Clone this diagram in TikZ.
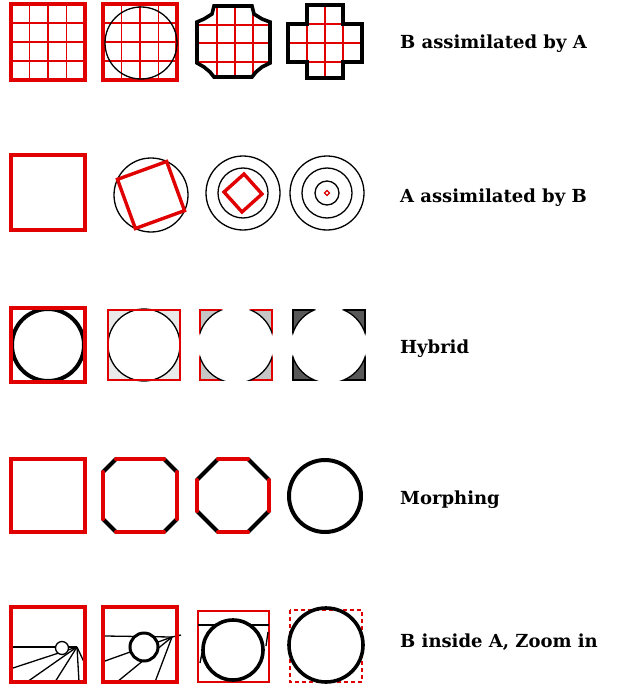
\documentclass[tikz,border=0pt]{standalone}
\usepackage{fontspec}
\setmainfont{DejaVu Serif}
\usepackage{tikz}
\definecolor{shapered}{RGB}{225,0,0}
\definecolor{lightfill}{RGB}{234,234,234}
\definecolor{midfill}{RGB}{198,198,198}
\definecolor{darkfill}{RGB}{88,88,88}

\begin{document}
\begin{tikzpicture}[
    x=1pt, y=-1pt,
    redframe/.style={draw=shapered, line width=4pt},
    thinframe/.style={draw=shapered, line width=1.6pt},
    gridline/.style={draw=shapered, line width=1.8pt},
    blackedge/.style={draw=black, line width=3.6pt},
    thinline/.style={draw=black, line width=1.3pt},
    rededge/.style={draw=shapered, line width=4pt, line cap=round},
    chamfer/.style={draw=black, line width=4pt, line cap=round},
    rowlabel/.style={anchor=west, inner sep=0pt,
                     font=\fontsize{18}{22}\selectfont\bfseries}
  ]
  \useasboundingbox (0,0) rectangle (619,687);

  %% Row 1: B assimilated by A
  \foreach \i in {1,2,3}{
    \draw[gridline] ({11+18.5*\i},4) -- ({11+18.5*\i},80);
    \draw[gridline] (11,{4+19*\i}) -- (85,{4+19*\i});
    \draw[gridline] ({103+18.5*\i},4) -- ({103+18.5*\i},80);
    \draw[gridline] (103,{4+19*\i}) -- (177,{4+19*\i});
  }
  \draw[redframe] (11,4) rectangle (85,80);
  \draw[redframe] (103,4) rectangle (177,80);
  \draw[thinline] (141,43) circle [radius=36];

  \begin{scope}
    \clip (214,6) -- (252,6) -- (254,14) -- (262,19) -- (270,22) -- (270,63)
      -- (262,67) -- (256,72) -- (252,77) -- (214,77) -- (210,72) -- (204,67)
      -- (197,63) -- (197,22) -- (204,19) -- (212,14) -- cycle;
    \foreach \v in {217,235,253}{
      \draw[gridline] (\v,0) -- (\v,85);
    }
    \foreach \h in {25,43,62}{
      \draw[gridline] (190,\h) -- (275,\h);
    }
  \end{scope}
  \draw[blackedge] (214,6) -- (252,6) -- (254,14) -- (262,19) -- (270,22)
    -- (270,63) -- (262,67) -- (256,72) -- (252,77) -- (214,77) -- (210,72)
    -- (204,67) -- (197,63) -- (197,22) -- (204,19) -- (212,14) -- cycle;

  \begin{scope}
    \clip (307,5) -- (343,5) -- (343,24) -- (362,24) -- (362,62) -- (343,62)
      -- (343,78) -- (307,78) -- (307,62) -- (288,62) -- (288,24) -- (307,24)
      -- cycle;
    \foreach \v in {307,325,343}{
      \draw[gridline] (\v,0) -- (\v,85);
    }
    \foreach \h in {24,43,62}{
      \draw[gridline] (285,\h) -- (365,\h);
    }
  \end{scope}
  \draw[blackedge] (307,5) -- (343,5) -- (343,24) -- (362,24) -- (362,62)
    -- (343,62) -- (343,78) -- (307,78) -- (307,62) -- (288,62) -- (288,24)
    -- (307,24) -- cycle;

  \node[rowlabel] (lblBA) at (400,44) {B assimilated by A};

  %% Row 2: A assimilated by B
  \draw[redframe] (11,155) rectangle (85,230);

  \coordinate (cB) at (151,195);
  \draw[thinline] (cB) circle [radius=37];
  \draw[redframe, line width=3.4pt] ([shift={(25:37)}]cB) -- ([shift={(115:37)}]cB)
    -- ([shift={(205:37)}]cB) -- ([shift={(295:37)}]cB) -- cycle;

  \coordinate (cC) at (243,193);
  \draw[thinline] (cC) circle [radius=37];
  \draw[thinline] (cC) circle [radius=25];
  \draw[redframe, line width=3.4pt] ([shift={(3:19)}]cC) -- ([shift={(93:19)}]cC)
    -- ([shift={(183:19)}]cC) -- ([shift={(273:19)}]cC) -- cycle;

  \coordinate (cD) at (327,193);
  \foreach \r in {37,25,12}{
    \draw[thinline] (cD) circle [radius=\r];
  }
  \draw[shapered, line width=1.2pt] ([shift={(0:2.5)}]cD) -- ([shift={(90:2.5)}]cD)
    -- ([shift={(180:2.5)}]cD) -- ([shift={(270:2.5)}]cD) -- cycle;

  \node[rowlabel] (lblAB) at (400,198) {A assimilated by B};

  %% Row 3: Hybrid
  \draw[blackedge, line width=4pt] (48,345) circle [radius=36];
  \draw[redframe] (11,308) rectangle (85,382);

  \fill[lightfill] (108,310) rectangle (180,380);
  \fill[white] (144,345) circle [radius=36];
  \draw[thinline] (144,345) circle [radius=36];
  \draw[thinframe] (108,310) rectangle (180,380);

  \fill[midfill] (200,310) rectangle (272,380);
  \draw[thinframe] (200,310) rectangle (272,380);
  \fill[white] (236,345) circle [radius=38];
  \begin{scope}
    \clip (200,310) rectangle (272,380);
    \draw[thinline] (236,345) circle [radius=38];
  \end{scope}

  \fill[darkfill] (293,310) rectangle (365,380);
  \draw[thinline] (293,310) rectangle (365,380);
  \fill[white] (329,345) circle [radius=38];
  \begin{scope}
    \clip (293,310) rectangle (365,380);
    \draw[thinline] (329,345) circle [radius=38];
  \end{scope}

  \node[rowlabel] (lblHy) at (400,349) {Hybrid};

  %% Row 4: Morphing
  \draw[redframe] (11,459) rectangle (85,532);

  \draw[chamfer] (103,472) -- (116,459);
  \draw[chamfer] (164,459) -- (177,472);
  \draw[chamfer] (177,519) -- (164,532);
  \draw[chamfer] (116,532) -- (103,519);
  \draw[rededge] (116,459) -- (164,459);
  \draw[rededge] (177,472) -- (177,519);
  \draw[rededge] (164,532) -- (116,532);
  \draw[rededge] (103,519) -- (103,472);

  \draw[chamfer] (197,480) -- (218,459);
  \draw[chamfer] (248,459) -- (269,480);
  \draw[chamfer] (269,511) -- (248,532);
  \draw[chamfer] (218,532) -- (197,511);
  \draw[rededge] (218,459) -- (248,459);
  \draw[rededge] (269,480) -- (269,511);
  \draw[rededge] (248,532) -- (218,532);
  \draw[rededge] (197,511) -- (197,480);

  \draw[blackedge, line width=4pt] (325,496) circle [radius=36];

  \node[rowlabel] (lblMo) at (400,500) {Morphing};

  %% Row 5: B inside A, Zoom in
  \coordinate (apexA) at (77,647);
  \foreach \e in {(13,668),(27,682),(55,682),(79,682),(84,662)}{
    \draw[thinline] (apexA) -- \e;
  }
  \draw[thinline] (13,647) -- (apexA);
  \draw[thinline, fill=white] (62,648) circle [radius=6.5];
  \draw[redframe] (11,607) rectangle (85,682);

  \coordinate (apexB) at (172,637);
  \foreach \e in {(105,661),(117,682),(155,682)}{
    \draw[thinline] (apexB) -- \e;
  }
  \draw[thinline] (105,636) -- (apexB) -- (181,635);
  \draw[blackedge, line width=3pt, fill=white] (144,647) circle [radius=14];
  \draw[redframe] (103,607) rectangle (177,682);

  \draw[thinframe] (198,611) rectangle (269,682);
  \draw[thinline] (198,625) -- (269,625);
  \draw[thinline] (200,663) -- (203,648);
  \draw[thinline] (266,646) -- (268,632);
  \draw[blackedge, fill=white] (233,650) circle [radius=30];

  \draw[thinframe, line width=2.2pt, dash pattern=on 4pt off 3pt]
    (290,610) rectangle (362,682);
  \draw[blackedge] (326,645) circle [radius=37];

  \node[rowlabel] (lblZo) at (400,642) {B inside A, Zoom in};

\end{tikzpicture}
\end{document}
